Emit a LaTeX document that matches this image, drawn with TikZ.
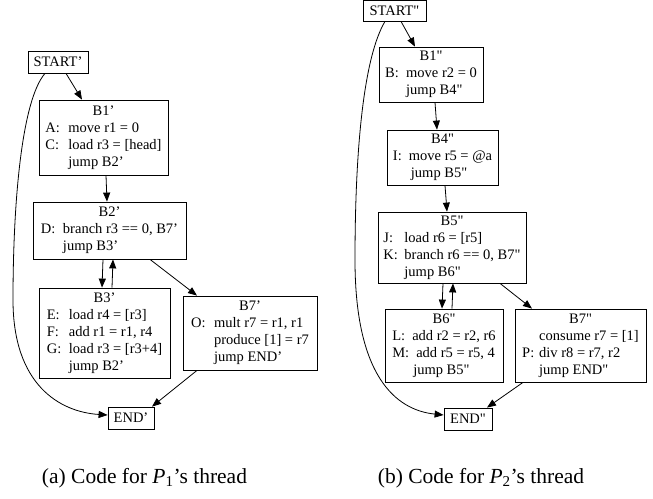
\documentclass[tikz,border=0pt]{standalone}
\usepackage{fontspec}
\newfontfamily\gv{Liberation Serif}
\usetikzlibrary{arrows.meta}
\newcommand\lb[2]{\makebox[#1pt][l]{#2}}
\newcommand\hd[1]{\multicolumn{1}{@{}c@{}}{#1}}
\newcommand\ind[1]{\hspace*{#1pt}}
\begin{document}
\begin{tikzpicture}[x=1pt,y=-1pt,
  bx/.style={draw, line width=0.8pt, inner sep=0pt, font=\gv\fontsize{14.5}{17}\selectfont, anchor=center},
  arr/.style={-{Triangle[length=9pt,width=7pt]}, line width=0.8pt},
  captext/.style={font=\gv\fontsize{21.5}{25}\selectfont, inner sep=0pt, anchor=base}]
\useasboundingbox (0,0) rectangle (653,498);

% ---------- left graph ----------
\node[bx, minimum width=60pt, minimum height=22pt] (s1) at (58,62) {START’};
\node[bx, minimum width=129pt, minimum height=75pt] (b1) at (103.5,137.5)
  {\begin{tabular}{@{}l@{}}\hd{B1’}\\ \lb{23}{A:}move r1 = 0\\ \lb{23}{C:}load r3 = [head]\\ \ind{23}jump B2’\end{tabular}};
\node[bx, minimum width=153pt, minimum height=57pt] (b2) at (109.5,230.5)
  {\begin{tabular}{@{}l@{}}\hd{B2’}\\ \lb{22}{D:}branch r3 == 0, B7’\\ \ind{22}jump B3’\end{tabular}};
\node[bx, minimum width=131pt, minimum height=90pt] (b3) at (104.5,333)
  {\begin{tabular}{@{}l@{}}\hd{B3’}\\ \lb{22}{E:}load r4 = [r3]\\ \lb{22}{F:}add r1 = r1, r4\\ \lb{22}{G:}load r3 = [r3+4]\\ \ind{22}jump B2’\end{tabular}};
\node[bx, minimum width=134pt, minimum height=74pt] (b7) at (250,333)
  {\begin{tabular}{@{}l@{}}\hd{B7’}\\ \lb{23}{O:}mult r7 = r1, r1\\ \ind{23}produce [1] = r7\\ \ind{23}jump END’\end{tabular}};
\node[bx, minimum width=46pt, minimum height=22pt] (e1) at (131,418) {END’};

\draw[arr] ([xshift=8pt]s1.south) -- ([xshift=-21.5pt]b1.north);
\draw[arr] ([xshift=-13pt]s1.south) .. controls (22,100) and (13,200) .. (13,300)
  .. controls (13,385) and (60,412) .. ([yshift=3pt]e1.west);
\draw[arr] ([xshift=2.5pt]b1.south) -- ([xshift=-2.5pt]b2.north);
\draw[arr] ([xshift=-6.5pt]b2.south) -- ([xshift=-2.5pt]b3.north);
\draw[arr] ([xshift=7.5pt]b3.north) -- ([xshift=3.5pt]b2.south);
\draw[arr] ([xshift=40.5pt]b2.south) -- ([xshift=-53pt]b7.north);
\draw[arr] ([xshift=-53pt]b7.south) -- ([xshift=21pt]e1.north);

% ---------- right graph ----------
\node[bx, minimum width=63pt, minimum height=21pt] (s2) at (394.5,10.5) {START"};
\node[bx, minimum width=104pt, minimum height=55pt] (c1) at (431,74.5)
  {\begin{tabular}{@{}l@{}}\hd{B1"}\\ \lb{21}{B:}move r2 = 0\\ \ind{21}jump B4"\end{tabular}};
\node[bx, minimum width=111pt, minimum height=55pt] (c4) at (442.5,157.5)
  {\begin{tabular}{@{}l@{}}\hd{B4"}\\ \lb{16}{I:}move r5 = @a\\ \ind{18}jump B5"\end{tabular}};
\node[bx, minimum width=148pt, minimum height=71pt] (c5) at (452,247.5)
  {\begin{tabular}{@{}l@{}}\hd{B5"}\\ \lb{21}{J:}load r6 = [r5]\\ \lb{21}{K:}branch r6 == 0, B7"\\ \ind{21}jump B6"\end{tabular}};
\node[bx, minimum width=118pt, minimum height=73pt] (c6) at (444,345.5)
  {\begin{tabular}{@{}l@{}}\hd{B6"}\\ \lb{20}{L:}add r2 = r2, r6\\ \lb{24}{M:}add r5 = r5, 4\\ \ind{21}jump B5"\end{tabular}};
\node[bx, minimum width=131pt, minimum height=73pt] (c7) at (580.5,345.5)
  {\begin{tabular}{@{}l@{}}\hd{B7"}\\ \ind{17}consume r7 = [1]\\ \lb{17}{P:}div r8 = r7, r2\\ \ind{17}jump END"\end{tabular}};
\node[bx, minimum width=48pt, minimum height=22pt] (e2) at (468,419) {END"};

\draw[arr] ([xshift=6.5pt]s2.south) -- ([xshift=-16pt]c1.north);
\draw[arr] ([xshift=-9.5pt]s2.south) .. controls (365,55) and (355,140) .. (355,260)
  .. controls (355,375) and (395,410) .. ([yshift=4pt]e2.west);
\draw[arr] ([xshift=4pt]c1.south) -- ([xshift=-5.5pt]c4.north);
\draw[arr] ([xshift=2.5pt]c4.south) -- ([xshift=-5pt]c5.north);
\draw[arr] ([xshift=-9pt]c5.south) -- ([xshift=-2pt]c6.north);
\draw[arr] ([xshift=8pt]c6.north) -- ([xshift=1pt]c5.south);
\draw[arr] ([xshift=48pt]c5.south) -- ([xshift=-48.5pt]c7.north);
\draw[arr] ([xshift=-57.5pt]c7.south) -- ([xshift=19pt]e2.north);

% ---------- captions ----------
\node[captext] (capa) at (144.5,483) {(a) Code for \textit{P}\textsubscript{1}’s thread};
\node[captext] (capb) at (481,483) {(b) Code for \textit{P}\textsubscript{2}’s thread};
\end{tikzpicture}
\end{document}
